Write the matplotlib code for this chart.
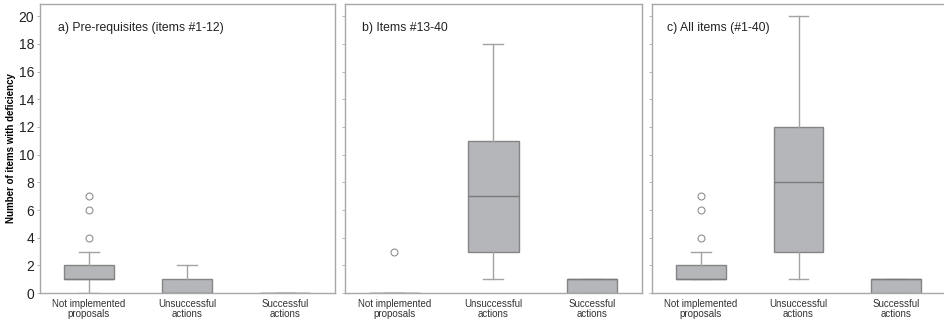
import matplotlib.pyplot as plt

plt.rcParams['font.family'] = ['Liberation Sans', 'DejaVu Sans']

categories = ['Not implemented\nproposals', 'Unsuccessful\nactions', 'Successful\nactions']
panel_titles = ['a) Pre-requisites (items #1-12)', 'b) Items #13-40', 'c) All items (#1-40)']
y_ticks = [0, 2, 4, 6, 8, 10, 12, 14, 16, 18, 20]

# box statistics per panel: (whislo, q1, med, q3, whishi, fliers)
panel_a = [(0, 1, 1, 2, 3, [4, 6, 7]),
           (0, 0, 0, 1, 2, []),
           (0, 0, 0, 0, 0, [])]
panel_b = [(0, 0, 0, 0, 0, [3]),
           (1, 3, 7, 11, 18, []),
           (0, 0, 1, 1, 1, [])]
panel_c = [(1, 1, 1, 2, 3, [4, 6, 7]),
           (1, 3, 8, 12, 20, []),
           (0, 0, 1, 1, 1, [])]

BOX_FILL = '#b5b6ba'
BOX_EDGE = '#858585'
LINE = '#a3a3a3'
SPINE = '#a8a8a8'


def make_stats(rows):
    stats = []
    for lo, q1, med, q3, hi, fl in rows:
        stats.append(dict(whislo=lo, q1=q1, med=med, q3=q3, whishi=hi, fliers=fl))
    return stats


fig = plt.figure(figsize=(9.45, 3.22), dpi=100)
rects = [[0.042, 0.090, 0.312, 0.898],
         [0.365, 0.090, 0.314, 0.898],
         [0.690, 0.090, 0.310, 0.898]]
title_x = [0.061, 0.057, 0.051]

for i, (rows, title) in enumerate(zip([panel_a, panel_b, panel_c], panel_titles)):
    ax = fig.add_axes(rects[i])
    ax.bxp(make_stats(rows), positions=[1, 2, 3], widths=0.51, patch_artist=True,
           showfliers=True, capwidths=0.2,
           boxprops=dict(facecolor=BOX_FILL, edgecolor=BOX_EDGE, linewidth=1.0),
           medianprops=dict(color='#7a7a7a', linewidth=1.0),
           whiskerprops=dict(color=LINE, linewidth=1.0),
           capprops=dict(color=LINE, linewidth=1.0),
           flierprops=dict(marker='o', markerfacecolor='white', markeredgecolor='#909090',
                           markersize=5, markeredgewidth=0.8))
    ax.set_xlim(0.5, 3.5)
    ax.set_ylim(0, 20.9)
    ax.set_yticks(y_ticks)
    ax.set_xticks([1, 2, 3])
    ax.set_xticklabels(categories, fontsize=7, color='#333333', linespacing=1.05)
    ax.tick_params(axis='x', length=0, pad=4)
    ax.tick_params(axis='y', length=2, width=0.6, color=SPINE, labelsize=10, pad=2,
                   labelcolor='#222222')
    if i > 0:
        ax.tick_params(axis='y', labelleft=False)
    else:
        ax.set_ylabel('Number of items with deficiency', fontsize=7, fontweight='bold')
        ax.yaxis.set_label_coords(-0.082, 0.5)
    for sp in ax.spines.values():
        sp.set_color(SPINE)
        sp.set_linewidth(1.0)
    ax.text(title_x[i], 0.917, title, transform=ax.transAxes,
            fontsize=8.8, color='#222222', va='center', ha='left')

fig.savefig('out.png', dpi=100)
